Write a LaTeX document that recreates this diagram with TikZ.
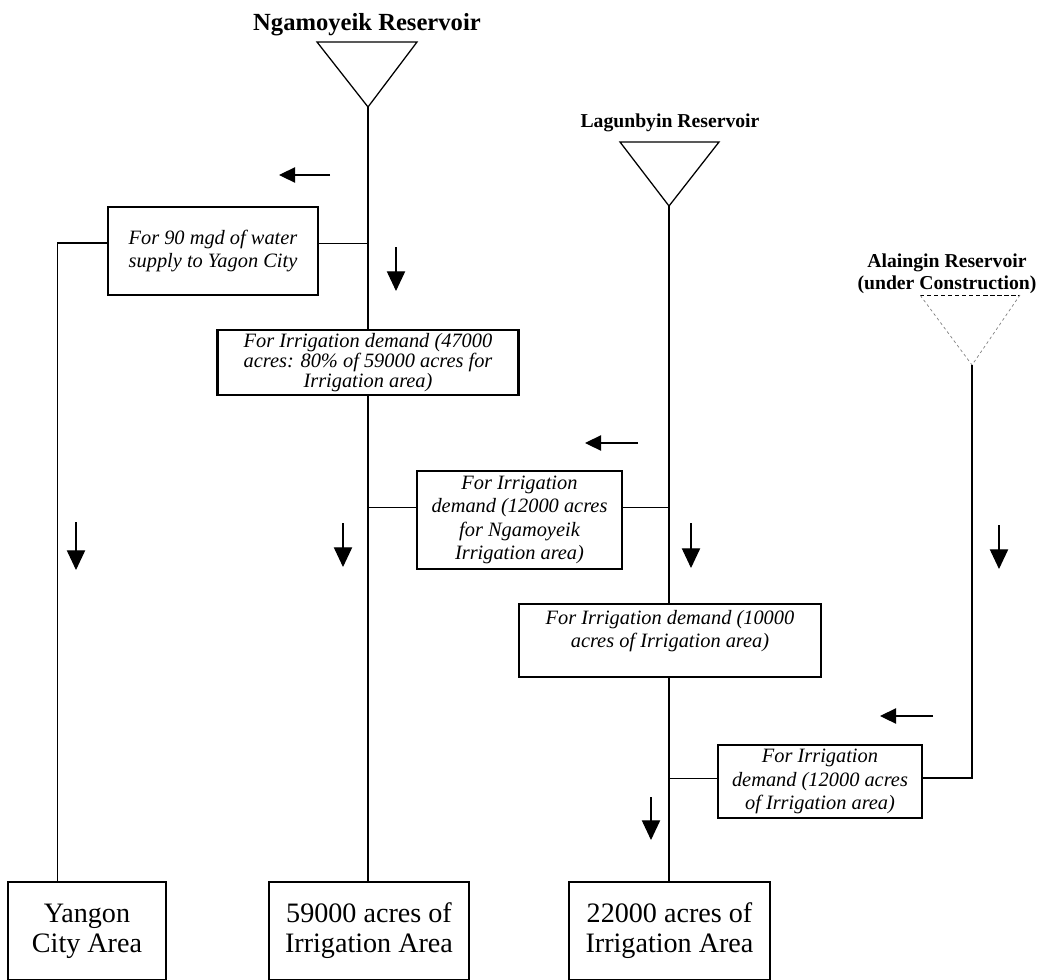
\documentclass[tikz,border=0pt]{standalone}
\usepackage{fontspec}
\setmainfont{Liberation Serif}
\usetikzlibrary{positioning,calc,arrows.meta}

\newlength{\unitpx}
\setlength{\unitpx}{0.025cm}

\tikzset{
  reslabel/.style={font=\bfseries\fontsize{14}{16}\selectfont, align=center, inner sep=0pt},
  demandbox/.style={draw, line width=1.5pt, align=center, inner sep=0pt,
    font=\itshape\fontsize{14.5}{16.5}\selectfont},
  areabox/.style={draw, line width=0.8pt, align=center, inner sep=0pt,
    font=\fontsize{20}{21.5}\selectfont},
  pipe/.style={line width=0.9pt},
  link/.style={line width=0.7pt},
  flowdown/.style={line width=0.8pt, -{Triangle[length=14pt,width=13pt]}},
  flowleft/.style={line width=0.8pt, -{Triangle[length=11.5pt,width=11pt]}},
}

\begin{document}
\begin{tikzpicture}[x=\unitpx, y=-\unitpx]
\useasboundingbox (0,0) rectangle (1043,979);
\clip (0,0) rectangle (1043,979);

% Reservoirs
\node[reslabel, font=\bfseries\fontsize{17.5}{20}\selectfont] (ngLabel) at (367,25) {Ngamoyeik Reservoir};
\coordinate (ngApex) at (368,107);
\draw[pipe] (317,42) -- (417,42) -- (ngApex) -- cycle;

\node[reslabel] (lgLabel) at (670,123) {Lagunbyin Reservoir};
\coordinate (lgApex) at (669,206);
\draw[pipe] (620,142) -- (719,142) -- (lgApex) -- cycle;

\node[reslabel] (alLabel) at (947,274) {Alaingin Reservoir\\(under Construction)};
\coordinate (alApex) at (972,365);
\draw[line width=0.6pt, dash pattern=on 3pt off 2pt] (920,295) -- (1020,295);
\draw[line width=0.5pt, gray, dash pattern=on 2pt off 2pt] (1020,295) -- (alApex) -- (920,295);

% Demand boxes
\node[demandbox, minimum width=210\unitpx, minimum height=88\unitpx] (supply) at (213,251)
  {For 90 mgd of water\\supply to Yagon City};
\node[demandbox, minimum width=301\unitpx, minimum height=65\unitpx,
  font=\itshape\fontsize{14.5}{14.5}\selectfont] (ngEighty) at (368,362.5)
  {For Irrigation demand (47000\\acres: 80\% of 59000 acres for\\Irrigation area)};
\node[demandbox, minimum width=205\unitpx, minimum height=98\unitpx] (lgTwelve) at (519.5,520)
  {For Irrigation\\demand (12000 acres\\for Ngamoyeik\\Irrigation area)};
\node[demandbox, minimum width=302\unitpx, minimum height=73\unitpx] (lgTen) at (670,640.5) {};
\node[font=\itshape\fontsize{14.5}{16}\selectfont, align=center, inner sep=0pt] (lgTenText) at (670,631)
  {For Irrigation demand (10000\\acres of Irrigation area)};
\node[demandbox, minimum width=204\unitpx, minimum height=73\unitpx] (alTwelve) at (820,781.5)
  {For Irrigation\\demand (12000 acres\\of Irrigation area)};

% Irrigation and city areas
\node[areabox, minimum width=158\unitpx, minimum height=98\unitpx] (yangon) at (87,931) {Yangon\\City Area};
\node[areabox, minimum width=200\unitpx, minimum height=98\unitpx] (ngArea) at (369,931) {59000 acres of\\Irrigation Area};
\node[areabox, minimum width=201\unitpx, minimum height=98\unitpx] (lgArea) at (669.5,931) {22000 acres of\\Irrigation Area};

% Ngamoyeik lines
\coordinate (ngSupplyTee) at (368,243);
\draw[pipe] (ngApex) -- (ngEighty.north);
\draw[pipe] (ngEighty.south) -- (ngEighty.south |- ngArea.north);
\draw[link] (supply.east |- ngSupplyTee) -- (ngSupplyTee);
\draw[pipe] (supply.west |- ngSupplyTee) -| ($(yangon.north west)+(50,0)$);

% Lagunbyin lines
\coordinate (ngTee) at (368,507);
\coordinate (lgTee) at (669,507);
\coordinate (lgLowTee) at (669,778);
\draw[pipe] (lgApex) -- (lgApex |- lgTen.north);
\draw[pipe] (lgApex |- lgTen.south) -- (lgApex |- lgArea.north);
\draw[link] (ngTee) -- (ngTee -| lgTwelve.west);
\draw[link] (lgTwelve.east |- lgTee) -- (lgTee);
\draw[link] (lgLowTee) -- (lgLowTee -| alTwelve.west);

% Alaingin line
\draw[pipe] (alTwelve.east |- lgLowTee) -| (alApex);

% Flow arrows
\draw[flowleft] (330,175) -- (279,175);
\draw[flowleft] (638,443) -- (585,443);
\draw[flowleft] (933,716) -- (880,716);
\draw[flowdown] (396,247) -- (396,291);
\draw[flowdown] (76,522) -- (76,570);
\draw[flowdown] (343,523) -- (343,567);
\draw[flowdown] (691,523) -- (691,568);
\draw[flowdown] (999,525) -- (999,569);
\draw[flowdown] (651,797) -- (651,840);
\end{tikzpicture}
\end{document}
